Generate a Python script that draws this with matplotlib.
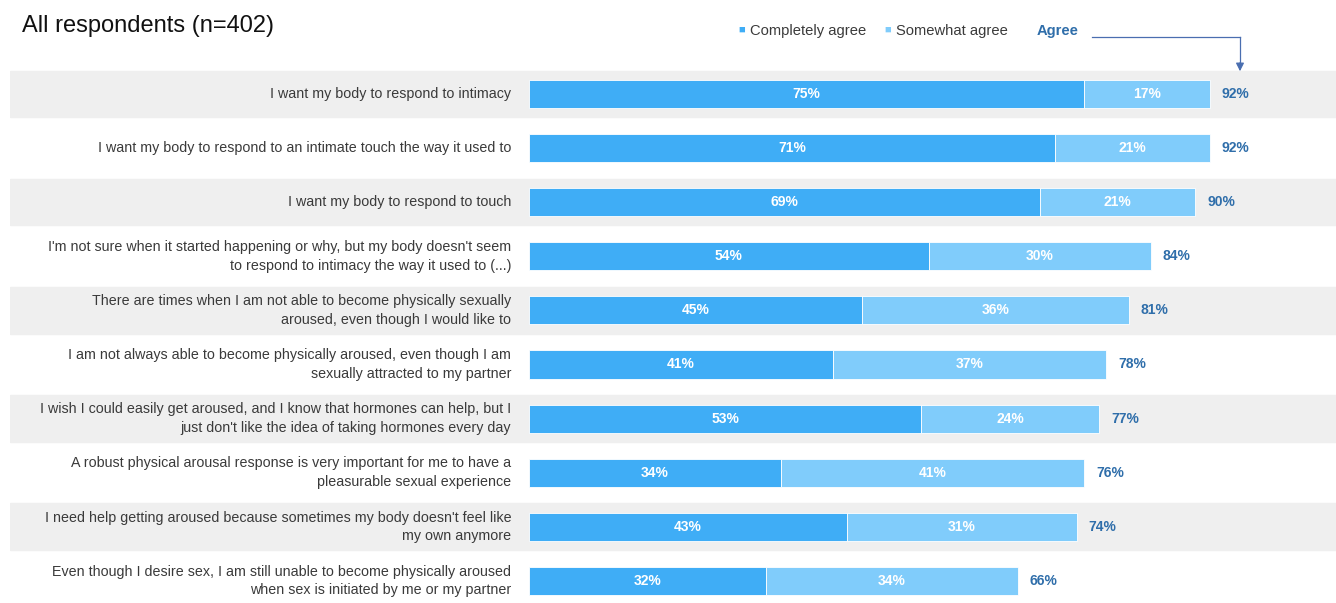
import matplotlib.pyplot as plt

plt.rcParams['font.family'] = ['Liberation Sans', 'DejaVu Sans']

statements = [
    "I want my body to respond to intimacy",
    "I want my body to respond to an intimate touch the way it used to",
    "I want my body to respond to touch",
    "I'm not sure when it started happening or why, but my body doesn't seem\nto respond to intimacy the way it used to (...)",
    "There are times when I am not able to become physically sexually\naroused, even though I would like to",
    "I am not always able to become physically aroused, even though I am\nsexually attracted to my partner",
    "I wish I could easily get aroused, and I know that hormones can help, but I\njust don't like the idea of taking hormones every day",
    "A robust physical arousal response is very important for me to have a\npleasurable sexual experience",
    "I need help getting aroused because sometimes my body doesn't feel like\nmy own anymore",
    "Even though I desire sex, I am still unable to become physically aroused\nwhen sex is initiated by me or my partner",
]
completely = [75, 71, 69, 54, 45, 41, 53, 34, 43, 32]
somewhat = [17, 21, 21, 30, 36, 37, 24, 41, 31, 34]
agree = [92, 92, 90, 84, 81, 78, 77, 76, 74, 66]

c_dark = '#3fadf6'
c_light = '#80ccfb'
c_total = '#2f6eaa'
c_band = '#efefef'

fig = plt.figure(figsize=(13.36, 6.03), dpi=100)
ax = fig.add_axes([10 / 1336, 0, 1 - 10 / 1336, 1 - 67 / 603])
ax.set_xlim(-70.1, 109)
ax.set_ylim(9.41, -0.5)
ax.axis('off')

y = list(range(len(statements)))
for i in y:
    if i % 2 == 0:
        ax.axhspan(i - 0.43, i + 0.43, color=c_band, zorder=0)

ax.barh(y, completely, height=0.52, color=c_dark, edgecolor='white', linewidth=0.6, zorder=2)
ax.barh(y, somewhat, left=completely, height=0.52, color=c_light, edgecolor='white', linewidth=0.6, zorder=2)

for i in y:
    end = completely[i] + somewhat[i]
    ax.text(-2.4, i, statements[i], ha='right', va='center', fontsize=10.3,
            color='#3a3a3a', linespacing=1.4)
    ax.text(completely[i] / 2, i, f"{completely[i]}%", ha='center', va='center',
            fontsize=10, fontweight='bold', color='white', zorder=3)
    ax.text(completely[i] + somewhat[i] / 2, i, f"{somewhat[i]}%", ha='center', va='center',
            fontsize=10, fontweight='bold', color='white', zorder=3)
    ax.text(end + 1.6, i, f"{agree[i]}%", ha='left', va='center',
            fontsize=10, fontweight='bold', color=c_total)

# title
fig.text(22 / 1336, 1 - 26 / 603, "All respondents (n=402)", fontsize=17,
         color='#111111', va='center', ha='left')

# legend
ly = 1 - 31 / 603
fig.text(738 / 1336, ly + 0.002, "\u25A0", fontsize=8, color=c_dark, va='center', ha='left')
fig.text(750 / 1336, ly, "Completely agree", fontsize=10.6, color='#3a3a3a', va='center', ha='left')
fig.text(884 / 1336, ly + 0.002, "\u25A0", fontsize=8, color=c_light, va='center', ha='left')
fig.text(896 / 1336, ly, "Somewhat agree", fontsize=10.6, color='#3a3a3a', va='center', ha='left')
fig.text(1037 / 1336, ly, "Agree", fontsize=10.6, fontweight='bold', color=c_total, va='center', ha='left')

# connector arrow to total column
fig.add_artist(plt.Line2D([1092 / 1336, 1240 / 1336], [1 - 37 / 603, 1 - 37 / 603],
                          color='#4a6eb0', linewidth=0.9))
fig.add_artist(plt.Line2D([1240 / 1336, 1240 / 1336], [1 - 37 / 603, 1 - 64 / 603],
                          color='#4a6eb0', linewidth=0.9))
ax.annotate('', xy=(1240 / 1336, 1 - 74 / 603), xytext=(1240 / 1336, 1 - 60 / 603),
            xycoords='figure fraction', textcoords='figure fraction',
            arrowprops=dict(arrowstyle='-|>', color='#4a6eb0', lw=0.9, mutation_scale=12))

fig.savefig('out.png', dpi=100, facecolor='white')
